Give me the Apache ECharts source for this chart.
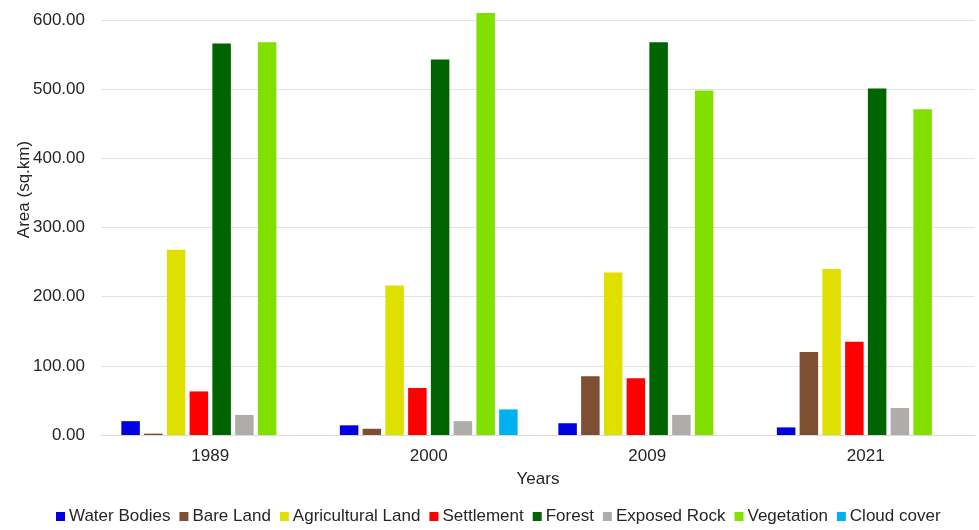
<!DOCTYPE html>
<html>
<head>
<meta charset="utf-8">
<script src="https://cdn.jsdelivr.net/npm/echarts@6/dist/echarts.min.js"></script>
<style>
  html, body { margin: 0; padding: 0; background: #ffffff; }
  #chart { width: 979px; height: 530px; }
</style>
</head>
<body>
<div id="chart"></div>
<script>
// Land cover area by year (sq.km)
const years = ['1989', '2000', '2009', '2021'];
const waterBodies = [20, 14, 17, 11];
const bareLand = [2, 9, 85, 120];
const agriculturalLand = [268, 216, 235, 240];
const settlement = [63, 68, 82, 135];
const forest = [566, 543, 568, 501];
const exposedRock = [29, 20, 29, 39];
const vegetation = [568, 610, 498, 471];
const cloudCover = [0, 37, 0, 0];
const yTicks = { min: 0, max: 600, interval: 100 };

const seriesDefs = [
  ['Water Bodies', waterBodies, '#0000e0'],
  ['Bare Land', bareLand, '#7f4f33'],
  ['Agricultural Land', agriculturalLand, '#dfe000'],
  ['Settlement', settlement, '#ff0000'],
  ['Forest', forest, '#006400'],
  ['Exposed Rock', exposedRock, '#b0aca9'],
  ['Vegetation', vegetation, '#82e000'],
  ['Cloud cover', cloudCover, '#00b0f0']
];

const font = 'Liberation Sans, Arial, sans-serif';
const textColor = '#262626';
const chart = echarts.init(document.getElementById('chart'), null, { renderer: 'canvas' });

chart.setOption({
  animation: false,
  backgroundColor: '#ffffff',
  textStyle: { fontFamily: font },
  grid: { left: 101, right: 4, top: 20, bottom: 95, containLabel: false },
  legend: {
    top: 503,
    left: 51,
    itemWidth: 9,
    itemHeight: 9,
    itemGap: 9,
    icon: 'rect',
    textStyle: { fontFamily: font, fontSize: 17, color: textColor, padding: [0, 0, 0, -1] },
    data: seriesDefs.map(d => d[0])
  },
  xAxis: {
    type: 'category',
    data: years,
    name: 'Years',
    nameLocation: 'middle',
    nameGap: 36,
    nameTextStyle: { fontFamily: font, fontSize: 17, color: textColor },
    axisLine: { lineStyle: { color: '#d9d9d9', width: 1 } },
    axisTick: { show: false },
    axisLabel: { fontFamily: font, fontSize: 17, color: textColor, margin: 13 }
  },
  yAxis: {
    type: 'value',
    min: yTicks.min,
    max: yTicks.max,
    interval: yTicks.interval,
    name: 'Area (sq.km)',
    nameLocation: 'middle',
    nameGap: 68,
    nameMoveOverlap: false,
    nameTextStyle: { fontFamily: font, fontSize: 17, color: textColor, padding: [0, 0, 0, 76] },
    axisLine: { show: false },
    axisTick: { show: false },
    splitLine: { lineStyle: { color: '#e3e3e3', width: 1 } },
    axisLabel: {
      fontFamily: font, fontSize: 17, color: textColor, margin: 16,
      formatter: v => v.toFixed(2)
    }
  },
  series: seriesDefs.map(([name, values, color]) => ({
    name,
    type: 'bar',
    data: values,
    clip: false,
    itemStyle: { color },
    barWidth: 18.5,
    barGap: '23%',
    barCategoryGap: '18.5%'
  }))
});
</script>
</body>
</html>
